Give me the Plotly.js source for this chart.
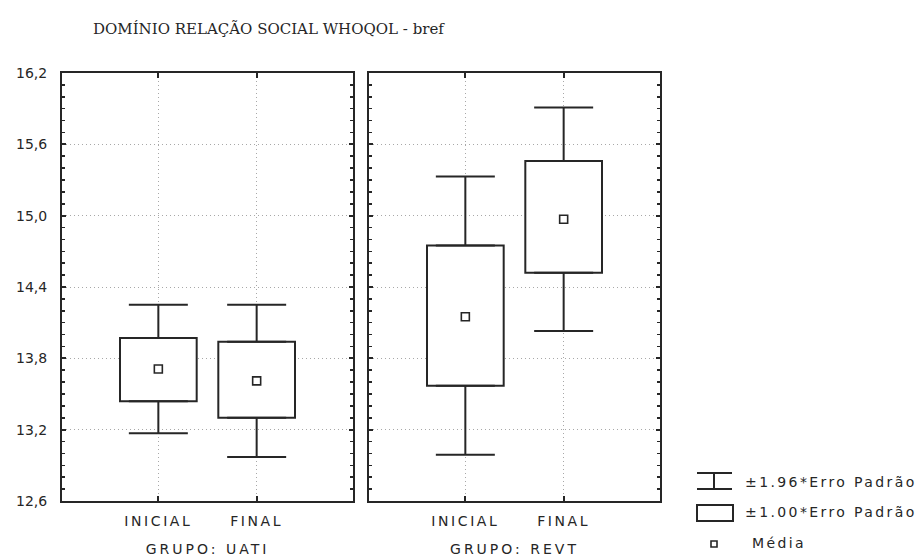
<!DOCTYPE html>
<html>
<head>
<meta charset="utf-8">
<script src="https://cdn.plot.ly/plotly-3.0.1.min.js"></script>
<style>
html,body{margin:0;padding:0;background:#fff;}
#chart{width:918px;height:560px;}
.xtick text, .x2tick text {letter-spacing: 2.6px;}
.g-xtitle text, .g-x2title text {letter-spacing: 3px;}
.annotation-text {letter-spacing: 2.4px;}
</style>
</head>
<body>
<div id="chart"></div>
<script>
// Data
const categories = ['INICIAL', 'FINAL'];
const groupTitles = ['GRUPO: UATI', 'GRUPO: REVT'];
const uatiMean      = [13.71, 13.61];
const uatiBoxLow    = [13.44, 13.30];
const uatiBoxHigh   = [13.97, 13.94];
const uatiWhiskLow  = [13.17, 12.97];
const uatiWhiskHigh = [14.25, 14.25];
const revtMean      = [14.15, 14.97];
const revtBoxLow    = [13.57, 14.52];
const revtBoxHigh   = [14.75, 15.46];
const revtWhiskLow  = [12.99, 14.03];
const revtWhiskHigh = [15.33, 15.91];
const yTickVals = [12.6, 13.2, 13.8, 14.4, 15.0, 15.6, 16.2];
const legendLabels = ['±1.96*Erro Padrão', '±1.00*Erro Padrão', 'Média'];
const titleText = 'DOMÍNIO RELAÇÃO SOCIAL WHOQOL - bref';

const ink = '#262626';
const sansFont = 'DejaVu Sans, Liberation Sans, sans-serif';

function groupTraces(xa, ya, mean, lo, hi, wlo, whi) {
  const zeros = lo.map(() => 0);
  return [
    { // ±1.00 SE box
      type: 'bar', xaxis: xa, yaxis: ya, x: categories,
      base: lo, y: hi.map((h, i) => h - lo[i]), width: 0.78,
      marker: {color: '#ffffff', line: {color: ink, width: 2}},
      showlegend: false, hoverinfo: 'skip'
    },
    { // upper ±1.96 SE whisker
      type: 'scatter', mode: 'markers', xaxis: xa, yaxis: ya, x: categories, y: hi,
      marker: {size: 1, opacity: 0},
      error_y: {type: 'data', symmetric: false, array: whi.map((w, i) => w - hi[i]), arrayminus: zeros,
                width: 29.5, thickness: 2, color: ink},
      showlegend: false, hoverinfo: 'skip'
    },
    { // lower ±1.96 SE whisker
      type: 'scatter', mode: 'markers', xaxis: xa, yaxis: ya, x: categories, y: lo,
      marker: {size: 1, opacity: 0},
      error_y: {type: 'data', symmetric: false, array: zeros, arrayminus: lo.map((l, i) => l - wlo[i]),
                width: 29.5, thickness: 2, color: ink},
      showlegend: false, hoverinfo: 'skip'
    },
    { // mean
      type: 'scatter', mode: 'markers', xaxis: xa, yaxis: ya, x: categories, y: mean,
      marker: {symbol: 'square-open', size: 8, color: ink, line: {width: 1.6, color: ink}},
      showlegend: false, hoverinfo: 'skip'
    }
  ];
}

const data = [].concat(
  groupTraces('x', 'y', uatiMean, uatiBoxLow, uatiBoxHigh, uatiWhiskLow, uatiWhiskHigh),
  groupTraces('x2', 'y2', revtMean, revtBoxLow, revtBoxHigh, revtWhiskLow, revtWhiskHigh)
);

const W = 918, H = 560;
const px = v => v / W, py = v => 1 - v / H;
const gridDash = '1px,3px';

function xAxis(domain, title, anchor) {
  return {
    domain: domain, anchor: anchor, type: 'category', range: [-0.98, 1.98],
    showline: true, linecolor: ink, linewidth: 2, mirror: 'ticks',
    ticks: 'inside', ticklen: 5, tickcolor: ink, tickwidth: 2,
    showgrid: true, gridcolor: '#a8a8a8', griddash: gridDash, gridwidth: 1,
    zeroline: false,
    ticklabelstandoff: 6,
    tickfont: {family: sansFont, size: 14, color: ink},
    title: {text: title, font: {family: sansFont, size: 14, color: ink}, standoff: 16},
    fixedrange: true
  };
}
function yAxis(domain, showLabels, anchor) {
  return {
    domain: domain, anchor: anchor, range: [12.6, 16.2],
    tickmode: 'array', tickvals: yTickVals, tickformat: '.1f',
    showticklabels: showLabels,
    showline: true, linecolor: ink, linewidth: 2, mirror: 'allticks',
    ticks: 'inside', ticklen: 4, tickcolor: ink, tickwidth: 2,
    minor: {dtick: 0.1, tick0: 12.6, ticks: 'inside', ticklen: 3, tickcolor: ink, tickwidth: 1.5, showgrid: false},
    showgrid: true, gridcolor: '#a8a8a8', griddash: gridDash, gridwidth: 1,
    zeroline: false,
    ticklabelstandoff: 10,
    tickfont: {family: sansFont, size: 14, color: ink},
    fixedrange: true
  };
}

const yDom = [py(501), py(73)];
const layout = {
  width: W, height: H,
  margin: {l: 0, r: 0, t: 0, b: 0},
  paper_bgcolor: '#fff', plot_bgcolor: '#fff',
  separators: ',.',
  showlegend: false,
  barmode: 'overlay',
  title: {text: titleText, x: px(93), xanchor: 'left', y: py(29), yanchor: 'middle',
          font: {family: 'DejaVu Serif, Liberation Serif, serif', size: 15, color: ink}},
  xaxis: xAxis([px(62), px(353)], groupTitles[0], 'y'),
  yaxis: yAxis(yDom, true, 'x'),
  xaxis2: xAxis([px(369), px(660)], groupTitles[1], 'y2'),
  yaxis2: yAxis(yDom, false, 'x2'),
  shapes: [
    // legend icons
    {type: 'line', xref: 'paper', yref: 'paper', x0: px(697), x1: px(732), y0: py(473), y1: py(473), line: {color: ink, width: 2}},
    {type: 'line', xref: 'paper', yref: 'paper', x0: px(697), x1: px(732), y0: py(489), y1: py(489), line: {color: ink, width: 2}},
    {type: 'line', xref: 'paper', yref: 'paper', x0: px(714), x1: px(714), y0: py(473), y1: py(489), line: {color: ink, width: 2}},
    {type: 'rect', xref: 'paper', yref: 'paper', x0: px(697), x1: px(733), y0: py(505), y1: py(521), line: {color: ink, width: 2}},
    {type: 'rect', xref: 'paper', yref: 'paper', x0: px(711), x1: px(717), y0: py(541), y1: py(547), line: {color: ink, width: 1.6}}
  ],
  annotations: [
    {xref: 'paper', yref: 'paper', x: px(743), y: py(482), xanchor: 'left', yanchor: 'middle', showarrow: false,
     text: legendLabels[0], font: {family: sansFont, size: 14, color: ink}},
    {xref: 'paper', yref: 'paper', x: px(743), y: py(512), xanchor: 'left', yanchor: 'middle', showarrow: false,
     text: legendLabels[1], font: {family: sansFont, size: 14, color: ink}},
    {xref: 'paper', yref: 'paper', x: px(750), y: py(543), xanchor: 'left', yanchor: 'middle', showarrow: false,
     text: legendLabels[2], font: {family: sansFont, size: 14, color: ink}}
  ]
};

Plotly.newPlot('chart', data, layout, {displayModeBar: false, staticPlot: true});
</script>
</body>
</html>
